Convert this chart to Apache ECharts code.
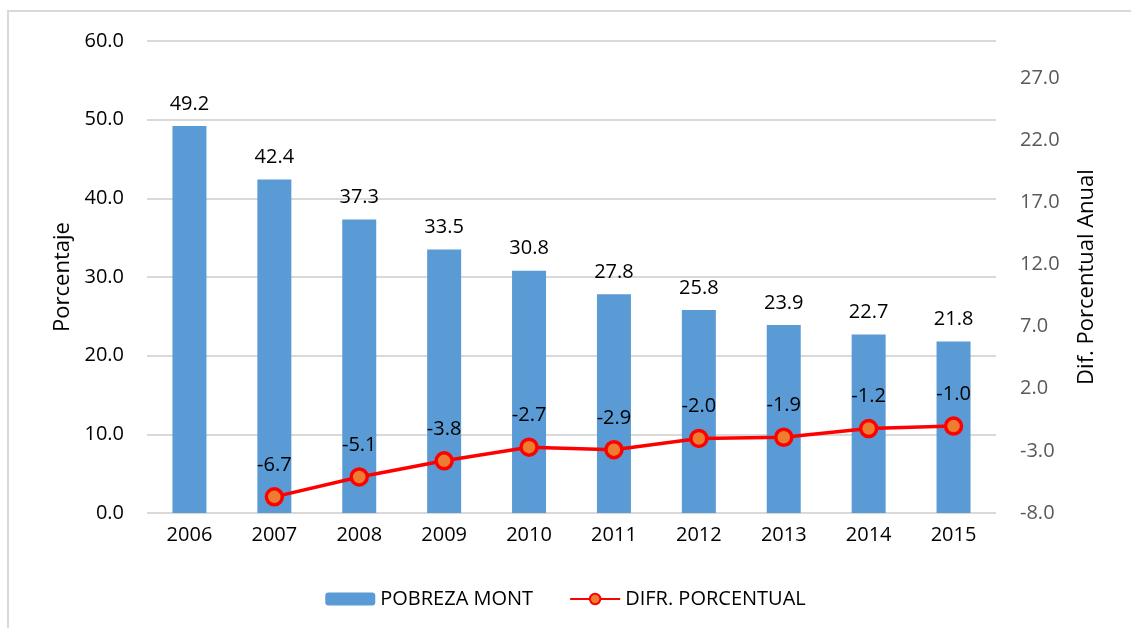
<!DOCTYPE html>
<html lang="es">
<head>
<meta charset="utf-8">
<script src="https://cdn.jsdelivr.net/npm/echarts@6/dist/echarts.min.js"></script>
<style>
  html, body { margin: 0; padding: 0; background: #fff; }
  #chart { width: 1131px; height: 628px; }
</style>
</head>
<body>
<div id="chart"></div>
<script>
// datos
var anios = ['2006', '2007', '2008', '2009', '2010', '2011', '2012', '2013', '2014', '2015'];
var pobreza = [49.2, 42.4, 37.3, 33.5, 30.8, 27.8, 25.8, 23.9, 22.7, 21.8];
var difPorcentual = [null, -6.7, -5.1, -3.8, -2.7, -2.9, -2.0, -1.9, -1.2, -1.0];

var fuente = '"Open Sans", "Noto Sans", sans-serif';

var myChart = echarts.init(document.getElementById('chart'));

var option = {
  textStyle: { fontFamily: fuente },
  graphic: [{
    type: 'rect',
    shape: { x: 8, y: 11, width: 1200, height: 700 },
    style: { fill: 'none', stroke: '#d9d9d9', lineWidth: 2 },
    silent: true
  }],
  grid: { left: 147, right: 135, top: 41, bottom: 115 },
  legend: {
    top: 584,
    left: 'center',
    itemWidth: 50,
    itemHeight: 13,
    itemGap: 36,
    textStyle: { fontSize: 20, color: '#000', fontFamily: fuente },
    data: ['POBREZA MONT', 'DIFR. PORCENTUAL']
  },
  xAxis: {
    type: 'category',
    data: anios,
    axisLine: { show: false },
    axisTick: { show: false },
    axisLabel: { fontSize: 20, color: '#000', margin: 12 }
  },
  yAxis: [{
    type: 'value',
    min: 0,
    max: 60,
    interval: 10,
    name: 'Porcentaje',
    nameLocation: 'middle',
    nameRotate: 90,
    nameGap: 73,
    nameTextStyle: { fontSize: 22, color: '#000' },
    axisLabel: {
      fontSize: 20, color: '#000', margin: 23,
      formatter: function (v) { return v.toFixed(1); }
    },
    splitLine: { lineStyle: { color: '#d9d9d9', width: 2 } }
  }, {
    type: 'value',
    min: -8,
    max: 30,
    interval: 5,
    name: 'Dif. Porcentual Anual',
    nameLocation: 'middle',
    nameRotate: 90,
    nameGap: 80,
    nameTextStyle: { fontSize: 22, color: '#000' },
    axisLabel: {
      fontSize: 20, color: '#595959', margin: 24,
      showMaxLabel: false,
      formatter: function (v) { return v.toFixed(1); }
    },
    splitLine: { show: false }
  }],
  series: [{
    name: 'POBREZA MONT',
    type: 'bar',
    data: pobreza,
    barWidth: 34,
    itemStyle: { color: '#5b9bd5' },
    label: {
      show: true,
      position: 'top',
      distance: 12,
      fontSize: 20,
      color: '#000',
      formatter: function (p) { return p.value.toFixed(1); }
    }
  }, {
    name: 'DIFR. PORCENTUAL',
    type: 'line',
    yAxisIndex: 1,
    data: difPorcentual,
    symbol: 'circle',
    symbolSize: 16,
    lineStyle: { color: '#ff0000', width: 3.5 },
    itemStyle: { color: '#ed7d31', borderColor: '#ff0000', borderWidth: 3.5 },
    label: {
      show: true,
      position: 'top',
      distance: 12,
      fontSize: 20,
      color: '#000',
      formatter: function (p) { return p.value.toFixed(1); }
    }
  }]
};

myChart.setOption(option);
</script>
</body>
</html>
